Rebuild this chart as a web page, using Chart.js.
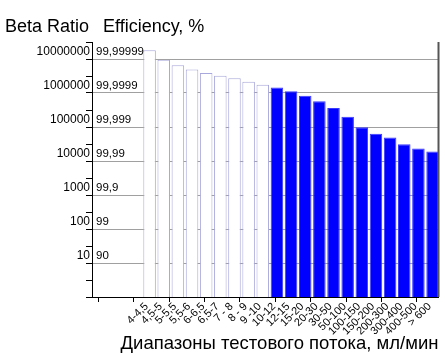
<!DOCTYPE html>
<html><head><meta charset="utf-8">
<script src="https://cdn.jsdelivr.net/npm/chart.js@4/dist/chart.umd.min.js"></script>
<style>html,body{margin:0;padding:0;background:#fff}#wrap{width:445px;height:356px;position:relative}</style>
</head><body><div id="wrap"><canvas id="c"></canvas></div>
<script>
const categories = ['4-4,5','4,5-5','5-5,5','5,5-6','6-6,5','6,5-7','7 - 8','8 - 9','9 -10','10-12','12-15','15-20','20-30','30-50','50-100','100-150','150-200','200-300','300-400','400-500','> 600'];
const betaRatio = [1.8e7, 9.5e6, 6.5e6, 4.9e6, 3.9e6, 3.2e6, 2.7e6, 2.15e6, 1.75e6, 1.44e6, 1.12e6, 8.3e5, 5.7e5, 3.6e5, 2.0e5, 9.8e4, 6.3e4, 4.9e4, 3.1e4, 2.35e4, 1.9e4];
const flowGroup = ['low','low','low','low','low','low','low','low','low','high','high','high','high','high','high','high','high','high','high','high','high'];
const betaTickValues = [10, 100, 1000, 10000, 100000, 1000000, 10000000];
const betaTickLabels = ['10','100','1000','10000','100000','1000000','10000000'];
const efficiencyLabels = ['90','99','99,9','99,99','99,999','99,9999','99,99999'];
const xMajorTicks = [-2.65, -0.15, 2.35, 4.85, 7.35, 9.85, 12.35, 14.85, 17.35, 19.85];
const yTitle = 'Beta Ratio';
const y2Title = 'Efficiency, %';
const xTitle = 'Диапазоны тестового потока, мл/мин';

const FONT = "'Liberation Sans', Arial, sans-serif";

const extras = {
  id: 'extras',
  afterDatasetsDraw(chart) {
    const {ctx, chartArea, scales} = chart;
    ctx.save();
    // right frame line
    ctx.strokeStyle = '#555';
    ctx.lineWidth = 2;
    ctx.beginPath();
    ctx.moveTo(chartArea.right, chartArea.top);
    ctx.lineTo(chartArea.right, chartArea.bottom);
    ctx.stroke();
    // x axis tick marks
    ctx.strokeStyle = '#000';
    ctx.lineWidth = 1;
    ctx.beginPath();
    xMajorTicks.forEach(v => {
      const x = Math.round(scales.x.getPixelForValue(v)) + 0.5;
      ctx.moveTo(x, chartArea.bottom);
      ctx.lineTo(x, chartArea.bottom + 5);
    });
    ctx.stroke();
    // efficiency labels
    ctx.fillStyle = '#000';
    ctx.font = '11.5px ' + FONT;
    ctx.textAlign = 'left';
    ctx.textBaseline = 'middle';
    betaTickValues.forEach((v, i) => {
      const y = scales.y.getPixelForValue(v) - 7;
      ctx.fillText(efficiencyLabels[i], chartArea.left + 4, y);
    });
    // titles
    ctx.font = '18px ' + FONT;
    ctx.textBaseline = 'middle';
    ctx.fillText(yTitle, 5, 27);
    ctx.fillText(y2Title, chartArea.left + 11, 27);
    ctx.restore();
  }
};

new Chart(document.getElementById('c'), {
  type: 'bar',
  data: {
    datasets: [{
      data: categories.map((c, i) => ({x: i + 1, y: betaRatio[i]})),
      backgroundColor: flowGroup.map(g => g === 'high' ? '#0000ff' : '#ffffff'),
      borderColor: flowGroup.map(g => g === 'high' ? '#3a3aff' : '#a8a8dc'),
      borderWidth: 1,
      barPercentage: 0.885,
      categoryPercentage: 1
    }]
  },
  options: {
    responsive: true,
    maintainAspectRatio: false,
    animation: false,
    layout: {padding: {top: 42, right: 6, left: 0, bottom: 0}},
    plugins: {legend: {display: false}, tooltip: {enabled: false}},
    scales: {
      x: {
        type: 'linear',
        min: -3.07,
        max: 21.42,
        offset: false,
        grid: {display: false, offset: false, drawTicks: false},
        border: {display: true, color: '#000', width: 1},
        afterBuildTicks: s => { s.ticks = categories.map((c, i) => ({value: i + 1})); },
        afterFit: s => { s.height = 59; },
        ticks: {
          autoSkip: false,
          minRotation: 45,
          maxRotation: 45,
          padding: 3,
          labelOffset: -3,
          color: '#000',
          font: {family: FONT, size: 11},
          callback: v => categories[Math.round(v) - 1] ?? ''
        },
        title: {
          display: true,
          text: xTitle,
          align: 'end',
          color: '#000',
          font: {family: FONT, size: 18.5},
          padding: {top: 0, bottom: 1}
        }
      },
      y: {
        type: 'logarithmic',
        min: 1,
        max: Math.pow(10, 7.5),
        afterBuildTicks: s => {
          const t = [];
          for (let k = 0; k <= 15; k++) t.push({value: Math.pow(10, k / 2), major: k % 2 === 0});
          s.ticks = t;
        },
        afterFit: s => { s.width = 92; },
        grid: {
          color: c => (c.tick && c.tick.major && c.tick.value > 1.5) ? '#a0a0a0' : 'rgba(0,0,0,0)',
          tickColor: '#000',
          tickLength: 6,
          lineWidth: 1
        },
        border: {display: true, color: '#000', width: 1},
        ticks: {
          autoSkip: false,
          padding: -4,
          labelOffset: -7,
          color: '#000',
          font: {family: FONT, size: 12},
          callback: (v) => {
            const idx = betaTickValues.findIndex(b => Math.abs(b - v) / b < 1e-6);
            return idx >= 0 ? betaTickLabels[idx] : '';
          }
        }
      }
    }
  },
  plugins: [extras]
});
</script>
</body></html>
